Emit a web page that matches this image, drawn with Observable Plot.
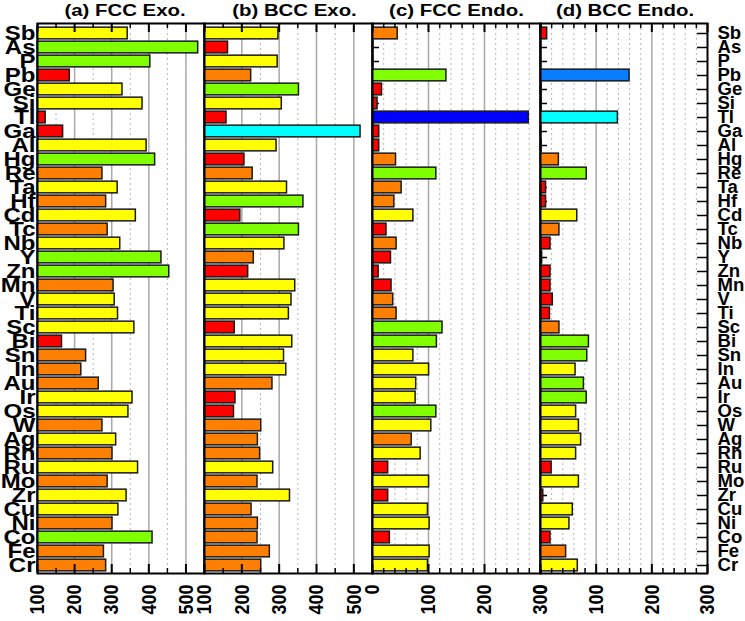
<!DOCTYPE html>
<html><head><meta charset="utf-8">
<script src="https://cdn.jsdelivr.net/npm/d3@7"></script>
<script src="https://cdn.jsdelivr.net/npm/@observablehq/plot@0.6"></script>
<style>
html,body{margin:0;padding:0;background:#fff;}
#chart{position:relative;width:745px;height:621px;background:#fff;}
#chart svg{position:absolute;left:0;top:0;}
</style></head><body><div id="chart"></div>
<script>
// ---------- data ----------
const elements = ["Sb","As","P","Pb","Ge","Si","Tl","Ga","Al","Hg","Re","Ta","Hf","Cd","Tc","Nb","Y","Zn","Mn","V","Ti","Sc","Bi","Sn","In","Au","Ir","Os","W","Ag","Rh","Ru","Mo","Zr","Cu","Ni","Co","Fe","Cr"];

const fccExo      = [343,533,404,187,329,383,122,169,394,417,275,316,285,365,289,323,434,455,305,308,317,361,166,231,218,265,356,345,275,312,302,371,289,340,318,302,410,279,285];
const fccExoClass = ["Y","G","G","R","Y","Y","R","R","Y","G","O","Y","O","Y","O","Y","G","G","O","Y","Y","Y","R","O","O","O","Y","Y","O","Y","O","Y","O","Y","Y","O","G","O","O"];

const bccExo      = [298,163,296,225,353,307,159,518,293,207,229,321,365,196,353,314,232,217,343,333,326,181,335,313,319,282,183,179,252,243,249,284,242,329,226,243,242,275,252];
const bccExoClass = ["Y","R","Y","O","G","Y","R","C","Y","R","O","Y","G","R","G","Y","O","R","Y","Y","Y","R","Y","Y","Y","O","R","R","O","O","O","Y","O","Y","O","O","O","O","O"];

const fccEndo      = [45,1,1,132,17,9,279,12,12,42,114,52,39,73,25,43,33,11,34,37,43,125,115,73,101,78,77,114,105,70,86,28,101,28,99,102,31,102,99];
const fccEndoClass = ["O","R","R","G","R","R","B","R","R","O","G","O","O","Y","R","O","R","R","R","O","O","G","G","Y","Y","Y","Y","G","Y","O","Y","R","Y","R","Y","Y","R","Y","Y"];

const bccEndo      = [12,0.5,0.5,160,2,2,139,0.5,2,33,83,10,10,66,34,18,3,18,18,22,17,34,87,84,63,78,83,64,69,73,64,20,69,5,58,52,18,46,67];
const bccEndoClass = ["R","R","R","D","R","R","C","R","R","O","G","R","R","Y","O","R","R","R","R","R","R","O","G","G","Y","G","G","Y","Y","Y","Y","R","Y","R","Y","Y","R","O","Y"];

const titles = ["(a) FCC Exo.","(b) BCC Exo.","(c) FCC Endo.","(d) BCC Endo."];

const exoDomain = [100, 550];
const exoMajor  = [100, 200, 300, 400, 500];
const exoMinor  = [150, 250, 350, 450];
const exoSolid  = [200, 300, 400, 500];

const endoDomain = [0, 300];
const endoMajor  = [0, 100, 200, 300];
const endoMinor  = [20,40,60,80,120,140,160,180,220,240,260,280];
const endoSolid  = [100, 200];

const classDomain = ["Y","G","O","R","C","B","D"];
const classColors = ["#ffff00","#80ff00","#ff8000","#ff0000","#00ffff","#0000ff","#0a7cff"];

// ---------- drawing ----------
const W = 745, H = 621, MT = 23, MB = 48;
const FH = H - MT - MB;
const chart = document.getElementById("chart");
// horizontal glyph stretch per text size (reference figure is stretched along x)
const stretchBySize = {"17.5": 1.06, "17": 1.2, "18": 1.17, "20": 1.2};

function panel(o) {
  const fw = o.R - o.L;
  const data = elements.map((e, i) => ({e, v: o.values[i], c: o.classes[i], b: o.domain[0]}));
  const marks = [
    Plot.ruleX(o.minor, {x: d => d, stroke: "#b5b5b5", strokeWidth: 1, strokeDasharray: "2,3"}),
    Plot.ruleX(o.solid, {x: d => d, stroke: "#a8a8a8", strokeWidth: 1.5}),
    Plot.tickY(elements, {y: d => d, insetRight: fw - 7, stroke: "#000", strokeWidth: 1.5})
  ];
  if (o.rightLabels) marks.push(Plot.tickY(elements, {y: d => d, insetLeft: fw - 10, stroke: "#000", strokeWidth: 1.5}));
  marks.push(
    Plot.barX(data, {x1: "b", x2: "v", y: "e", fill: "c", stroke: "#1a1a1a", strokeWidth: 1.5, insetTop: 1.15, insetBottom: 1.15}),
    Plot.tickX(o.major, {x: d => d, insetBottom: FH - 9, stroke: "#000", strokeWidth: 2}),
    Plot.tickX(o.major, {x: d => d, insetTop: FH - 9, stroke: "#000", strokeWidth: 2}),
    Plot.tickX(o.minor, {x: d => d, insetBottom: FH - 5, stroke: "#000", strokeWidth: 1.5}),
    Plot.tickX(o.minor, {x: d => d, insetTop: FH - 5, stroke: "#000", strokeWidth: 1.5}),
    Plot.frame({stroke: "#000", strokeWidth: 2}),
    Plot.text(o.major, {x: d => d, text: d => String(d), frameAnchor: "bottom", dy: 11, rotate: -90, textAnchor: "end", lineAnchor: "middle", fontSize: 18, fontWeight: "bold", fill: "#000"}),
    Plot.text([o.title], {text: d => d, frameAnchor: "top", dy: -13, dx: o.titleDx, lineAnchor: "middle", fontSize: 17, fontWeight: "bold", fill: "#000"})
  );
  if (o.leftLabels) marks.push(Plot.text(elements, {y: d => d, text: d => d, frameAnchor: "left", dx: -2, textAnchor: "end", lineAnchor: "middle", fontSize: 20, fontWeight: "bold", fill: "#000"}));
  if (o.rightLabels) marks.push(Plot.text(elements, {y: d => d, text: d => d, frameAnchor: "right", dx: 10, textAnchor: "start", lineAnchor: "middle", fontSize: 17.5, fontWeight: "bold", fill: "#000"}));

  const svg = Plot.plot({
    width: W, height: H,
    marginLeft: o.L, marginRight: W - o.R, marginTop: MT, marginBottom: MB,
    style: {background: "transparent", overflow: "visible", fontFamily: "'Liberation Sans', Arial, sans-serif"},
    x: {domain: o.domain, axis: null},
    y: {domain: elements, range: [26, 572], padding: 0, axis: null},
    color: {domain: classDomain, range: classColors},
    marks
  });
  svg.querySelectorAll("text").forEach(t => {
    const tr = t.getAttribute("transform");
    if (!tr) return;
    const g = t.closest("[font-size]");
    const s = (g && stretchBySize[g.getAttribute("font-size")]) || 1.2;
    t.setAttribute("transform", tr + (tr.includes("rotate") ? ` scale(1,${s})` : ` scale(${s},1)`));
  });
  chart.appendChild(svg);
}

panel({L: 37,  R: 204, domain: exoDomain,  major: exoMajor,  minor: exoMinor,  solid: exoSolid,  values: fccExo,  classes: fccExoClass,  title: titles[0], titleDx: 4, leftLabels: true});
panel({L: 204, R: 372, domain: exoDomain,  major: exoMajor,  minor: exoMinor,  solid: exoSolid,  values: bccExo,  classes: bccExoClass,  title: titles[1], titleDx: 6});
panel({L: 372, R: 540, domain: endoDomain, major: endoMajor, minor: endoMinor, solid: endoSolid, values: fccEndo, classes: fccEndoClass, title: titles[2], titleDx: 0});
panel({L: 540, R: 707, domain: endoDomain, major: endoMajor, minor: endoMinor, solid: endoSolid, values: bccEndo, classes: bccEndoClass, title: titles[3], titleDx: 1, rightLabels: true});
</script></body></html>
